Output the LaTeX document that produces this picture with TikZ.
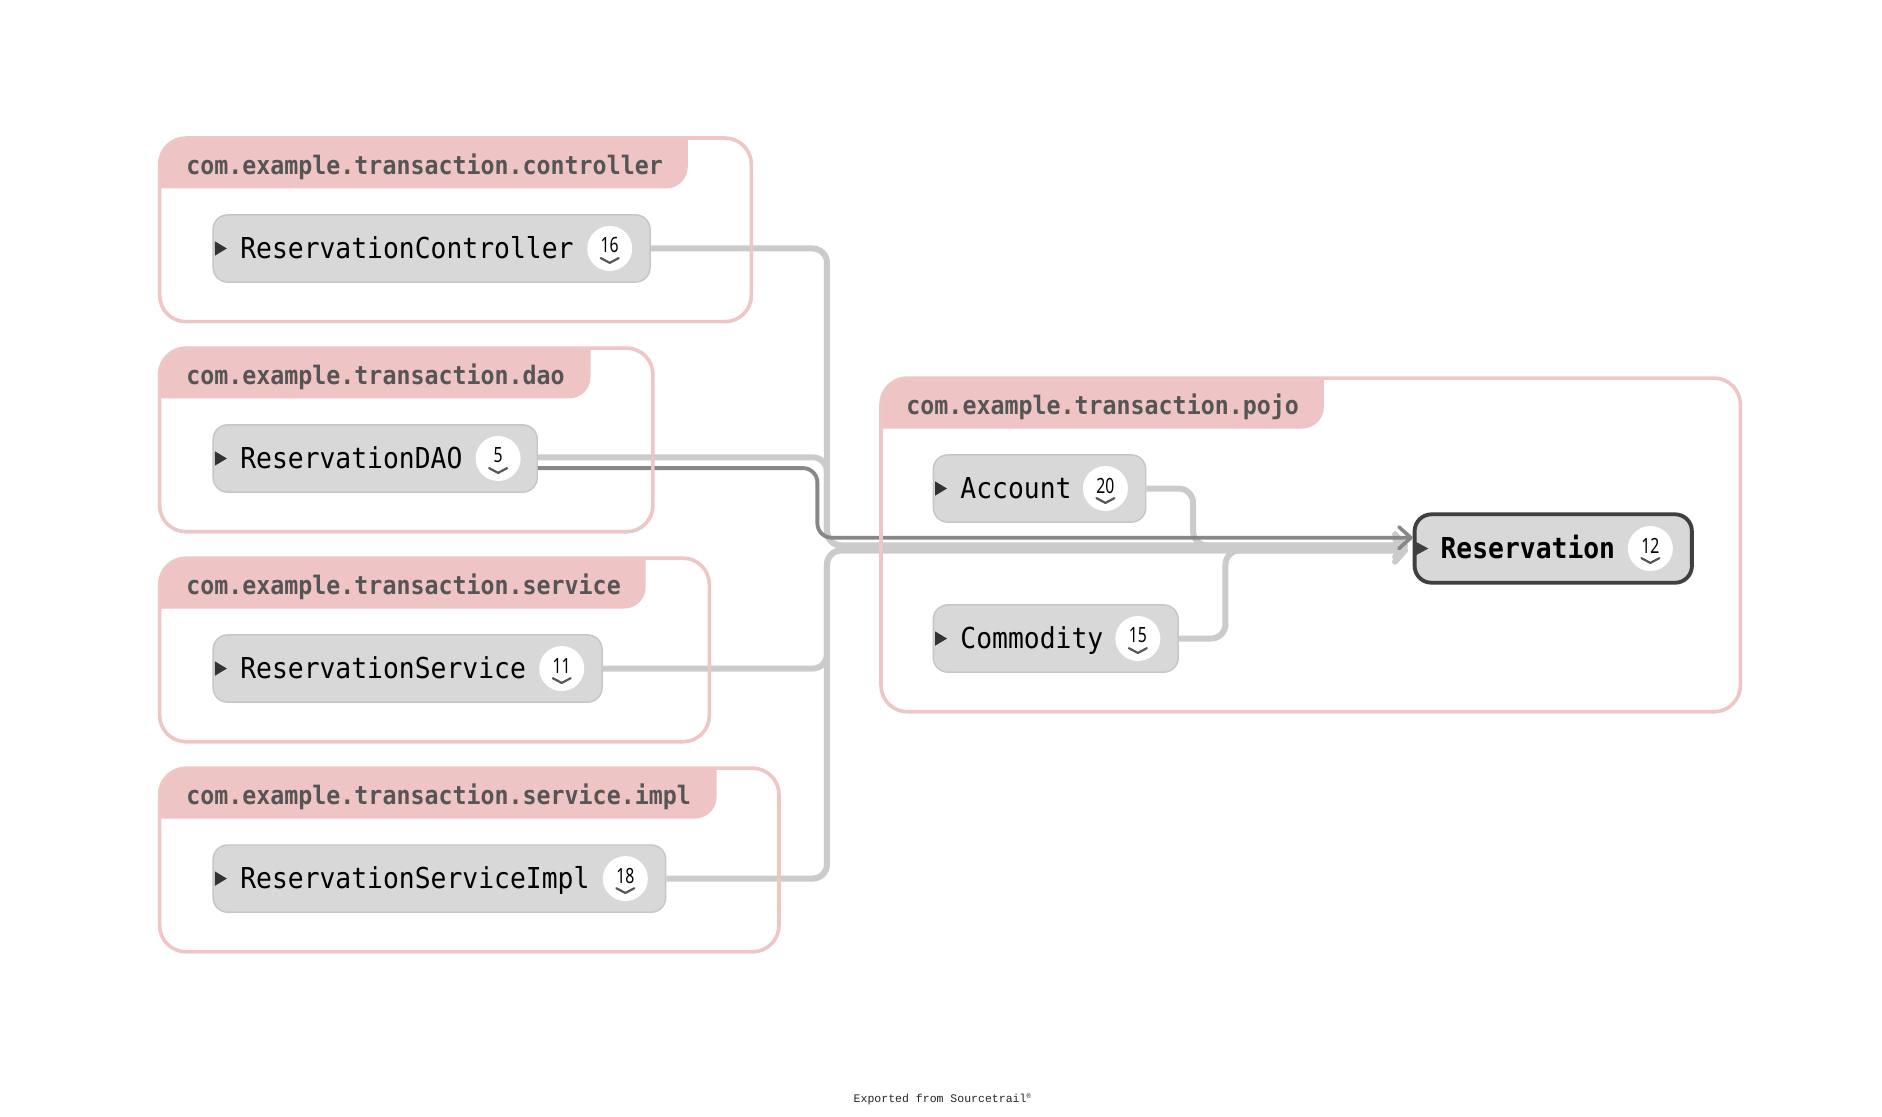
\documentclass[tikz,border=0pt]{standalone}
\usepackage{fontspec}
\setmainfont{DejaVu Sans}
\newfontfamily\monofont[FakeStretch=0.915]{DejaVu Sans Mono}
\newfontfamily\numfont[FakeStretch=0.75]{Noto Sans}
\newfontfamily\expfont{Liberation Mono}
\usetikzlibrary{arrows.meta}
\definecolor{grpline}{HTML}{EFC6C6}
\definecolor{grpfill}{HTML}{EFC4C4}
\definecolor{grptext}{HTML}{555555}
\definecolor{nodefill}{HTML}{D8D8D8}
\definecolor{nodeline}{HTML}{C6C6C6}
\definecolor{edgelite}{HTML}{CBCBCB}
\definecolor{edgedark}{HTML}{878787}
\definecolor{focusline}{HTML}{3F3F3F}
\definecolor{trifill}{HTML}{333333}
\definecolor{chevcol}{HTML}{555555}
\newcommand\grptab[5]{%
  \begin{scope}
    \clip[rounded corners=22pt] (#1,#2) rectangle (#3,#4);
    \fill[grpfill, rounded corners=18pt] ({#1-40},{#2-40}) rectangle (#5,{#2+42});
  \end{scope}}
\newcommand\clstri[2]{\fill[trifill] (#1,{#2-6}) -- ({#1+10},#2) -- (#1,{#2+6}) -- cycle;}
\newcommand\badge[4]{%
  \node[badgecirc] (#1) at (#2,#3) {};
  \node[badgenum] (#1n) at (#2,{#3-2.5}) {#4};
  \draw[chev] ({#2-7.5},{#3+8}) -- (#2,{#3+12}) -- ({#2+7.5},{#3+8});}
\begin{document}
\begin{tikzpicture}[x=1pt,y=-1pt,
  grpframe/.style={draw=grpline, line width=3pt, rounded corners=22pt, inner sep=0pt},
  grphead/.style={anchor=base west, inner sep=0pt, text=grptext, font=\monofont\bfseries\fontsize{21.2pt}{24pt}\selectfont},
  cls/.style={draw=nodeline, fill=nodefill, line width=1.2pt, rounded corners=12pt, minimum height=56pt, inner sep=0pt, anchor=west},
  focus/.style={draw=focusline, fill=nodefill, line width=3.2pt, rounded corners=14pt, minimum height=57pt, inner sep=0pt, anchor=west},
  clslabel/.style={anchor=base west, inner sep=0pt, text=black, font=\monofont\fontsize{24pt}{28pt}\selectfont},
  focuslabel/.style={anchor=base west, inner sep=0pt, text=black, font=\monofont\bfseries\fontsize{24pt}{28pt}\selectfont},
  badgecirc/.style={circle, fill=white, minimum size=37.5pt, inner sep=0pt},
  badgenum/.style={inner sep=0pt, text=black, font=\numfont\fontsize{17.5pt}{20pt}\selectfont},
  chev/.style={draw=chevcol, line width=1.8pt, line cap=round, line join=round},
  lite/.style={draw=edgelite, line width=5pt, rounded corners=12pt},
  litearrow/.style={lite, -{Straight Barb[length=8.5pt, width=19pt, line width=4.5pt, round]}, shorten >=4pt},
  darkarrow/.style={draw=edgedark, line width=3.2pt, rounded corners=12pt, -{Straight Barb[length=10pt, width=18pt, line width=3pt, round]}},
  exported/.style={inner sep=0pt, text=black!85, font=\expfont\fontsize{9.6pt}{11pt}\selectfont}
]
\useasboundingbox (0,0) rectangle (1568,930);
\fill[white] (0,0) rectangle (1568,930);

% group header tabs
\grptab{133}{115}{626}{268}{573}
\grptab{133}{290}{544}{443}{492}
\grptab{133}{465}{591}{618}{538}
\grptab{133}{640}{649}{793}{597}
\grptab{734}{315}{1450}{593}{1103}

\node[grphead] (g1t) at (155,145) {com.example.transaction.controller};
\node[grphead] (g2t) at (155,320) {com.example.transaction.dao};
\node[grphead] (g3t) at (155,495) {com.example.transaction.service};
\node[grphead] (g4t) at (155,670) {com.example.transaction.service.impl};
\node[grphead] (g5t) at (755,345) {com.example.transaction.pojo};

% class nodes
\node[cls, minimum width=364pt] (rc) at (177,207) {};
\node[cls, minimum width=270pt] (dao) at (177,382) {};
\node[cls, minimum width=324pt] (rs) at (177,557) {};
\node[cls, minimum width=377pt] (rsi) at (177,732) {};
\node[cls, minimum width=177pt] (acc) at (777,407) {};
\node[cls, minimum width=204pt] (com) at (777,532) {};
\node[focus, minimum width=231pt] (res) at (1177,457) {};

\node[clslabel] (rcl) at (200,215.5) {ReservationController};
\node[clslabel] (daol) at (200,390.5) {ReservationDAO};
\node[clslabel] (rsl) at (200,565.5) {ReservationService};
\node[clslabel] (rsil) at (200,740.5) {ReservationServiceImpl};
\node[clslabel] (accl) at (800,415.5) {Account};
\node[clslabel] (coml) at (800,540.5) {Commodity};
\node[focuslabel] (resl) at (1200,465.5) {Reservation};

\clstri{179}{207}
\clstri{179}{382}
\clstri{179}{557}
\clstri{179}{732}
\clstri{779}{407}
\clstri{779}{532}
\fill[focusline] (1178,450.5) -- (1190,457) -- (1178,463.5) -- cycle;

\badge{rcb}{508}{207}{16}
\badge{daob}{415}{382}{5}
\badge{rsb}{468}{557}{11}
\badge{rsib}{521}{732}{18}
\badge{accb}{921}{407}{20}
\badge{comb}{948}{532}{15}
\badge{resb}{1375}{457}{12}

% connectors
\draw[litearrow] (rc.east) -- (689,207) -- (689,454.5) -- ([yshift=2.5pt]res.west);
\draw[litearrow] ([yshift=1pt]dao.east) -- (689,381) -- (689,454.5) -- ([yshift=2.5pt]res.west);
\draw[litearrow] (rs.east) -- (689,557) -- (689,458.5) -- ([yshift=-1.5pt]res.west);
\draw[litearrow] (rsi.east) -- (689,732) -- (689,458.5) -- ([yshift=-1.5pt]res.west);
\draw[litearrow] (acc.east) -- (994,407) -- (994,454.5) -- ([yshift=2.5pt]res.west);
\draw[litearrow] (com.east) -- (1021,532) -- (1021,458.5) -- ([yshift=-1.5pt]res.west);
\draw[darkarrow] ([yshift=-8pt]dao.east) -- (681,390) -- (681,448) -- ([yshift=9pt]res.west);

% group frames
\node[grpframe, minimum width=493pt, minimum height=153pt] (g1) at (379.5,191.5) {};
\node[grpframe, minimum width=411pt, minimum height=153pt] (g2) at (338.5,366.5) {};
\node[grpframe, minimum width=458pt, minimum height=153pt] (g3) at (362,541.5) {};
\node[grpframe, minimum width=516pt, minimum height=153pt] (g4) at (391,716.5) {};
\node[grpframe, minimum width=716pt, minimum height=278pt] (g5) at (1092,454) {};

\node[exported] (exp) at (785,916) {Exported from Sourcetrail\raisebox{3pt}{\scalebox{0.6}{®}}};
\end{tikzpicture}
\end{document}
